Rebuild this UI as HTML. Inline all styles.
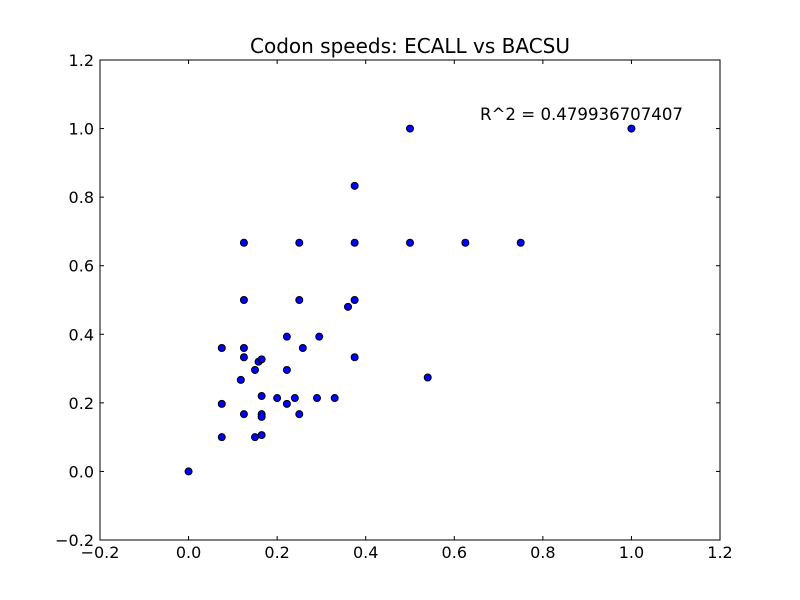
<!DOCTYPE html>
<html><head><meta charset="utf-8"><style>
body{margin:0;background:#fff;}
svg{display:block;font-family:"DejaVu Sans","Liberation Sans",sans-serif;}
</style></head><body>
<svg id="chart" width="800" height="600">
<rect width="800" height="600" fill="#fff"/>
<text x="410" y="53" font-size="20" text-anchor="middle">Codon speeds: ECALL vs BACSU</text>
<g id="axes"></g>
<g id="points"></g>
<text x="480" y="120" font-size="16.6">R^2 = 0.479936707407</text>
<rect x="100" y="60" width="620" height="480" fill="none" stroke="#000" stroke-width="1"/>
</svg>
<script>
const xTicks=[-0.2,0,0.2,0.4,0.6,0.8,1.0,1.2];
const yTicks=[-0.2,0,0.2,0.4,0.6,0.8,1.0,1.2];
const xTickLabels=["\u22120.2","0.0","0.2","0.4","0.6","0.8","1.0","1.2"];
const yTickLabels=["\u22120.2","0.0","0.2","0.4","0.6","0.8","1.0","1.2"];
const xVals=[0,0.075,0.075,0.075,0.125,0.125,0.125,0.125,0.118,0.125,0.15,0.15,0.158,0.165,0.165,0.165,0.165,0.165,0.2,0.222,0.222,0.222,0.24,0.25,0.25,0.25,0.258,0.29,0.295,0.33,0.36,0.375,0.375,0.375,0.375,0.5,0.5,0.54,0.625,0.75,1.0];
const yVals=[0,0.1,0.197,0.36,0.667,0.5,0.36,0.333,0.267,0.167,0.1,0.296,0.32,0.327,0.22,0.167,0.159,0.106,0.214,0.393,0.296,0.197,0.214,0.667,0.5,0.167,0.36,0.214,0.393,0.214,0.48,0.833,0.667,0.5,0.333,1.0,0.667,0.274,0.667,0.667,1.0];
const X=v=>100+(v+0.2)/1.4*620;
const Y=v=>540-(v+0.2)/1.4*480;
const NS="http://www.w3.org/2000/svg";
const ax=document.getElementById('axes'),pg=document.getElementById('points');
function mk(t,a,p){const e=document.createElementNS(NS,t);for(const k in a)e.setAttribute(k,a[k]);p.appendChild(e);return e;}
xTicks.forEach((t,i)=>{const x=X(t);
mk('line',{x1:x,x2:x,y1:540,y2:536,stroke:'#000'},ax);
mk('line',{x1:x,x2:x,y1:60,y2:64,stroke:'#000'},ax);
const l=mk('text',{x:x,y:558,'font-size':16,'text-anchor':'middle'},ax);l.textContent=xTickLabels[i];

});
yTicks.forEach((t,i)=>{const y=Y(t);
mk('line',{x1:100,x2:104,y1:y,y2:y,stroke:'#000'},ax);
mk('line',{x1:716,x2:720,y1:y,y2:y,stroke:'#000'},ax);
const l=mk('text',{x:94,y:y+6,'font-size':16,'text-anchor':'end'},ax);l.textContent=yTickLabels[i];

});
xVals.forEach((v,i)=>{const c=mk('circle',{cx:X(v),cy:Y(yVals[i]),r:3.5,fill:'#0000ff',stroke:'#000','stroke-width':1},pg);

});
</script>
</body></html>
